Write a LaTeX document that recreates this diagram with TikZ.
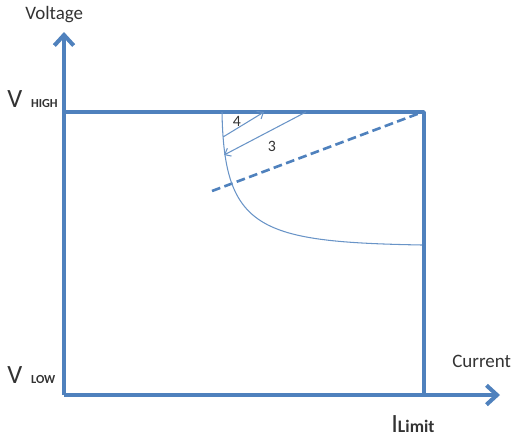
\documentclass[tikz,border=0pt]{standalone}
\usepackage{fontspec}
\setmainfont{Carlito}
\usepackage{xcolor}
\usetikzlibrary{arrows.meta, calc}
\definecolor{cLine}{HTML}{4F81BD}
\definecolor{cText}{HTML}{333333}
\tikzset{
  axis/.style={
    line width=2.3pt, color=cLine,
    -{Straight Barb[length=6pt, width=11pt]}
  },
  bound/.style={
    line width=2pt, color=cLine, line cap=round, line join=round
  },
  load/.style={
    line width=1.5pt, color=cLine, dashed,
    dash pattern=on 5pt off 2.5pt
  },
  trace/.style={
    line width=0.6pt, color=cLine!85
  },
  jump/.style={
    line width=0.6pt, color=cLine!85,
    -{Straight Barb[length=3pt, width=5pt]}
  },
  lbl/.style={
    font=\fontsize{10.8}{11}\selectfont, text=cText, inner sep=0pt
  },
  big/.style={
    font=\fontsize{15}{15}\selectfont, text=cText, inner sep=0pt
  }
}

\begin{document}
\begin{tikzpicture}[x=0.02cm, y=-0.02cm]

\useasboundingbox (0,0) rectangle (517,437);

%% ── Coordinates ──────────────────────────────────────────────────
\coordinate (o)     at (64,395);
\coordinate (vtop)  at (64,32);
\coordinate (iend)  at (500,395);
\coordinate (hl)    at (64,112);
\coordinate (hr)    at (424,112);
\coordinate (lr)    at (424,395);
\coordinate (dA)    at (212,191);
\coordinate (dB)    at (420,113);
\coordinate (cA)    at (222,112);
\coordinate (cB)    at (422,245);
\coordinate (f4a)   at (223,137);
\coordinate (f4b)   at (264,112);
\coordinate (f3a)   at (306,112);
\coordinate (f3b)   at (224,155);

%% ── Axes ─────────────────────────────────────────────────────────
\draw[axis] (o) -- (vtop);
\draw[axis] (o) -- (iend);

%% ── Limit box ────────────────────────────────────────────────────
\draw[bound] (hl) -- (hr) -- (lr);

% load line (dashed)
\draw[load] (dA) -- (dB);

% operating curve
\draw[trace] (cA) .. controls (224,230) and (260,242) .. (cB);

% transitions
\draw[jump] (f4a) -- (f4b);
\draw[jump] (f3a) -- (f3b);

%% ── Labels ───────────────────────────────────────────────────────
\node[lbl, anchor=base west] (volt) at (25,19) {Voltage};
\node[lbl, anchor=base west] (curr) at (452,367) {Current};

\node[big, anchor=base west] (vhigh) at (7,107)
  {V\,\,{\fontsize{7}{7}\selectfont\bfseries HIGH}};
\node[big, anchor=base west] (vlow) at (7,383)
  {V\,\,{\fontsize{7}{7}\selectfont\bfseries LOW}};
\node[big, anchor=base west] (ilim) at (391,432)
  {I{\fontsize{10}{10}\selectfont\bfseries Limit}};

\node[lbl, font=\fontsize{9}{9}\selectfont] (n4) at (237,121) {4};
\node[lbl, font=\fontsize{9}{9}\selectfont] (n3) at (272,146) {3};

\end{tikzpicture}
\end{document}
